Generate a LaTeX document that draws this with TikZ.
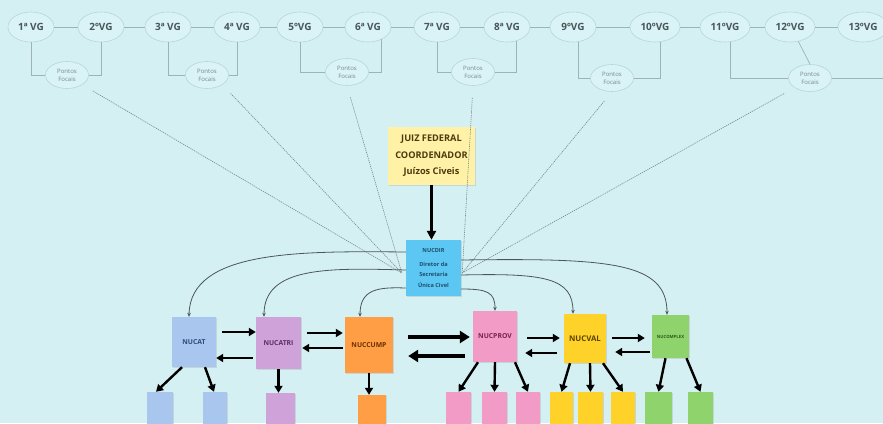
\documentclass[tikz,border=0pt]{standalone}
\usepackage{fontspec}
\setmainfont{Open Sans}
\usetikzlibrary{arrows.meta,shapes.geometric,shadows}
\definecolor{bgc}{HTML}{D4F0F3}
\definecolor{vgtxt}{HTML}{4A5658}
\definecolor{pftxt}{HTML}{76878A}
\definecolor{ellline}{HTML}{B8D6DA}
\definecolor{ellfill}{HTML}{DAF3F6}
\definecolor{linkc}{HTML}{9DB3B6}
\definecolor{dotc}{HTML}{7B888A}
\definecolor{curvc}{HTML}{4D5557}
\definecolor{juizc}{HTML}{FFF1A6}
\definecolor{juiztxt}{HTML}{4B3B0E}
\definecolor{dirc}{HTML}{5CC7F2}
\definecolor{dirtxt}{HTML}{1D4E6E}
\definecolor{bluec}{HTML}{A8C6EE}
\definecolor{bluetxt}{HTML}{2E4A7A}
\definecolor{lavc}{HTML}{CFA2D9}
\definecolor{lavtxt}{HTML}{5A2E66}
\definecolor{orc}{HTML}{FF9E45}
\definecolor{ortxt}{HTML}{6A3000}
\definecolor{pinkc}{HTML}{F39BC7}
\definecolor{pinktxt}{HTML}{7A2050}
\definecolor{yelc}{HTML}{FFD22A}
\definecolor{yeltxt}{HTML}{5A4300}
\definecolor{grc}{HTML}{8ED36C}
\definecolor{grtxt}{HTML}{2F5A1A}
\begin{document}
\begin{tikzpicture}[x=1pt,y=-1pt,
  vgnode/.style={ellipse, draw=ellline, fill=ellfill, line width=0.6pt, minimum width=46, minimum height=30, inner sep=0, text=vgtxt, font=\fontsize{10}{11}\selectfont\bfseries},
  vgwide/.style={vgnode, minimum width=50},
  pfnode/.style={ellipse, draw=ellline, fill=ellfill, line width=0.6pt, minimum width=43, minimum height=27, inner sep=0, text=pftxt, font=\fontsize{6}{8}\selectfont, align=center},
  vline/.style={draw=linkc, line width=0.7pt},
  dotln/.style={draw=dotc, line width=0.6pt, dash pattern=on 1.2pt off 0.9pt},
  sticky/.style={rectangle, inner sep=0, drop shadow={shadow xshift=0.8pt, shadow yshift=-1.2pt, opacity=0.22}},
  mainbox/.style={sticky, font=\fontsize{6.8}{8}\selectfont\bfseries},
  kidbox/.style={sticky, minimum height=40},
  bigarr/.style={line width=2.4pt, -{Triangle[length=7pt,width=8pt]}},
  hugearr/.style={line width=3.6pt, -{Triangle[length=10pt,width=12pt]}},
  curvarr/.style={draw=curvc, line width=0.8pt, -{Stealth[length=4pt,width=3.5pt]}}
]
\useasboundingbox (0,0) rectangle (883,423);
\clip (0,0) rectangle (883,423);
\fill[bgc] (0,0) rectangle (883,423);

% VG row
\node[vgnode] (vg1) at (31,27) {1ª VG};
\node[vgnode] (vg2) at (101,27) {2ºVG};
\node[vgnode] (vg3) at (168,27) {3ª VG};
\node[vgnode] (vg4) at (237,27) {4ª VG};
\node[vgnode] (vg5) at (300,27) {5ºVG};
\node[vgnode] (vg6) at (368,27) {6ª VG};
\node[vgnode] (vg7) at (437,27) {7ª VG};
\node[vgnode] (vg8) at (507,27) {8ª VG};
\node[vgnode] (vg9) at (573,27) {9ºVG};
\node[vgwide] (vg10) at (655,27) {10ºVG};
\node[vgwide] (vg11) at (725,27) {11ºVG};
\node[vgwide] (vg12) at (790,27) {12ºVG};
\node[vgwide] (vg13) at (863,27) {13ºVG};
\foreach \a/\b in {vg1/vg2,vg2/vg3,vg3/vg4,vg4/vg5,vg5/vg6,vg6/vg7,vg7/vg8,vg8/vg9,vg9/vg10,vg10/vg11,vg11/vg12,vg12/vg13}
  \draw[vline] (\a) -- (\b);

% Pontos Focais
\node[pfnode] (pf1) at (67,75) {Pontos\\Focais};
\node[pfnode] (pf2) at (207,75) {Pontos\\Focais};
\node[pfnode] (pf3) at (347,72) {Pontos\\Focais};
\node[pfnode] (pf4) at (473,72) {Pontos\\Focais};
\node[pfnode] (pf5) at (612,78) {Pontos\\Focais};
\node[pfnode] (pf6) at (810,78) {Pontos\\Focais};

\draw[vline] (vg1.south) |- (pf1.west);
\draw[vline] (vg2.south) |- (pf1.east);
\draw[vline] (vg3.south) |- (pf2.west);
\draw[vline] (vg4.south) |- (pf2.east);
\draw[vline] (vg5.south) |- (pf3.west);
\draw[vline] (vg6.-42) |- (pf3.east);
\draw[vline] (vg7.south) |- (pf4.west);
\draw[vline] (vg8.-55) |- (pf4.east);
\draw[vline] (vg9.-70) |- (pf5.west);
\draw[vline] (vg10.-70) |- (pf5.east);
\draw[vline] (vg11.-70) |- (pf6.west);
\draw[vline] (vg12.-60) -- (pf6.north);
\draw[vline] (pf6.east) -| ([xshift=30pt]vg13.south);

% central boxes
\node[sticky, fill=juizc, minimum width=87, minimum height=58, text=juiztxt, align=center,
  font=\fontsize{9.2}{16.5}\selectfont\bfseries] (juiz) at (431.5,156) {JUIZ FEDERAL\\COORDENADOR\\Juízos Civeis};
\node[sticky, fill=dirc, minimum width=55, minimum height=56, text=dirtxt, align=center,
  font=\fontsize{5.6}{10.5}\selectfont\bfseries] (nucdir) at (433.5,268) {NUCDIR\\[3pt]Diretor da\\Secretaria\\Única Civel};

% main row
\node[mainbox, fill=bluec, minimum width=44, minimum height=50, text=bluetxt] (nucat) at (194,342) {NUCAT};
\node[mainbox, fill=lavc, minimum width=45, minimum height=52, text=lavtxt] (nucatri) at (278.5,343) {NUCATRI};
\node[mainbox, fill=orc, minimum width=48, minimum height=56, text=ortxt] (nuccump) at (369,345) {NUCCUMP};
\node[mainbox, fill=pinkc, minimum width=44, minimum height=51, text=pinktxt] (nucprov) at (495,336.5) {NUCPROV};
\node[mainbox, fill=yelc, minimum width=42, minimum height=49, text=yeltxt, font=\fontsize{7.8}{9}\selectfont\bfseries] (nucval) at (585,338.5) {NUCVAL};
\node[mainbox, fill=grc, minimum width=37, minimum height=43, text=grtxt, font=\fontsize{4.3}{5}\selectfont\bfseries] (nucomplex) at (670.5,336.5) {NUCOMPLEX};

% children
\node[kidbox, fill=bluec, minimum width=26] (c11) at (160,412) {};
\node[kidbox, fill=bluec, minimum width=24] (c12) at (215,412) {};
\node[kidbox, fill=lavc, minimum width=29] (c21) at (280.5,413) {};
\node[kidbox, fill=orc, minimum width=28] (c31) at (372,415) {};
\node[kidbox, fill=pinkc, minimum width=25] (c41) at (458.5,412) {};
\node[kidbox, fill=pinkc, minimum width=25] (c42) at (494.5,412) {};
\node[kidbox, fill=pinkc, minimum width=24] (c43) at (528,412) {};
\node[kidbox, fill=yelc, minimum width=23] (c51) at (561.5,412) {};
\node[kidbox, fill=yelc, minimum width=25] (c52) at (590.5,412) {};
\node[kidbox, fill=yelc, minimum width=24] (c53) at (623,412) {};
\node[kidbox, fill=grc, minimum width=27] (c61) at (658.5,412) {};
\node[kidbox, fill=grc, minimum width=25] (c62) at (700.5,412) {};

% dotted lines from Pontos Focais to NUCDIR
\coordinate (dirL) at ([shift={(-4pt,-5pt)}]nucdir.west);
\coordinate (dirR) at ([shift={(1pt,-5pt)}]nucdir.east);
\draw[dotln, shorten <=12pt] (pf1.south east) -- (dirL);
\draw[dotln, shorten <=12pt] (pf2.south east) -- (dirL);
\draw[dotln, shorten <=12pt] (pf3.south) -- (dirL);
\draw[dotln, shorten <=12pt] (pf4.south) -- (dirR);
\draw[dotln, shorten <=12pt] (pf5.south) -- (dirR);
\draw[dotln, shorten <=12pt] (pf6.south west) -- (dirR);

% juiz -> nucdir
\draw[line width=2.6pt, -{Triangle[length=9pt,width=9pt]}] (juiz.south) -- (juiz.south |- nucdir.north);

% curved arrows from NUCDIR
\draw[curvarr] (nucdir.west |- 0,252) .. controls (300,251) and (190,250) .. ([xshift=-5pt]nucat.north);
\draw[curvarr] (nucdir.west |- 0,270) .. controls (330,268) and (264,266) .. ([xshift=-14.5pt]nucatri.north);
\draw[curvarr] (nucdir.west |- 0,288) .. controls (378,287) and (360,289) .. ([xshift=-9pt]nuccump.north);
\draw[curvarr] (nucdir.east |- 0,289) .. controls (487,289) and (495,292) .. (nucprov.north);
\draw[curvarr] (nucdir.east |- 0,275) .. controls (545,273) and (573,278) .. ([xshift=-12pt]nucval.north);
\draw[curvarr] (nucdir.east |- 0,260) .. controls (610,258) and (667,262) .. ([xshift=-3.5pt]nucomplex.north);

% horizontal arrows
\draw[bigarr, shorten <=6pt] (nucat.east |- 0,332) -- (nucatri.west |- 0,332);
\draw[bigarr, shorten <=3pt] (nucatri.west |- 0,358) -- (nucat.east |- 0,358);
\draw[bigarr, shorten <=6pt, shorten >=2pt] (nucatri.east |- 0,333) -- (nuccump.west |- 0,333);
\draw[bigarr, shorten <=2pt, shorten >=1pt] (nuccump.west |- 0,348) -- (nucatri.east |- 0,348);
\draw[hugearr, shorten <=15pt, shorten >=3pt] (nuccump.east |- 0,337) -- (nucprov.west |- 0,337);
\draw[hugearr, shorten <=8pt, shorten >=15pt] (nucprov.west |- 0,356) -- (nuccump.east |- 0,356);
\draw[bigarr, shorten <=10pt, shorten >=4pt] (nucprov.east |- 0,338) -- (nucval.west |- 0,338);
\draw[bigarr, shorten <=7pt, shorten >=8pt] (nucval.west |- 0,353) -- (nucprov.east |- 0,353);
\draw[bigarr, shorten <=6pt, shorten >=7pt] (nucval.east |- 0,338) -- (nucomplex.west |- 0,338);
\draw[bigarr, shorten <=2pt, shorten >=9pt] (nucomplex.west |- 0,352) -- (nucval.east |- 0,352);

% down arrows
\draw[bigarr] ([xshift=-12pt]nucat.south) -- ([xshift=-4pt]c11.north);
\draw[bigarr] ([xshift=11pt]nucat.south) -- ([xshift=-1pt]c12.north);
\draw[bigarr] (nucatri.south) -- (nucatri.south |- c21.north);
\draw[bigarr] (nuccump.south) -- (nuccump.south |- c31.north);
\draw[bigarr] ([xshift=-17pt]nucprov.south) -- (c41.north);
\draw[bigarr] (nucprov.south) -- (c42.north);
\draw[bigarr] ([xshift=20pt]nucprov.south) -- (c43.north);
\draw[bigarr] ([xshift=-15pt]nucval.south) -- (c51.north);
\draw[bigarr] ([xshift=5pt]nucval.south) -- (c52.north);
\draw[bigarr] ([xshift=18pt]nucval.south) -- (c53.north);
\draw[bigarr] ([xshift=-5pt]nucomplex.south) -- (c61.north);
\draw[bigarr] ([xshift=16pt]nucomplex.south) -- (c62.north);
\end{tikzpicture}
\end{document}
